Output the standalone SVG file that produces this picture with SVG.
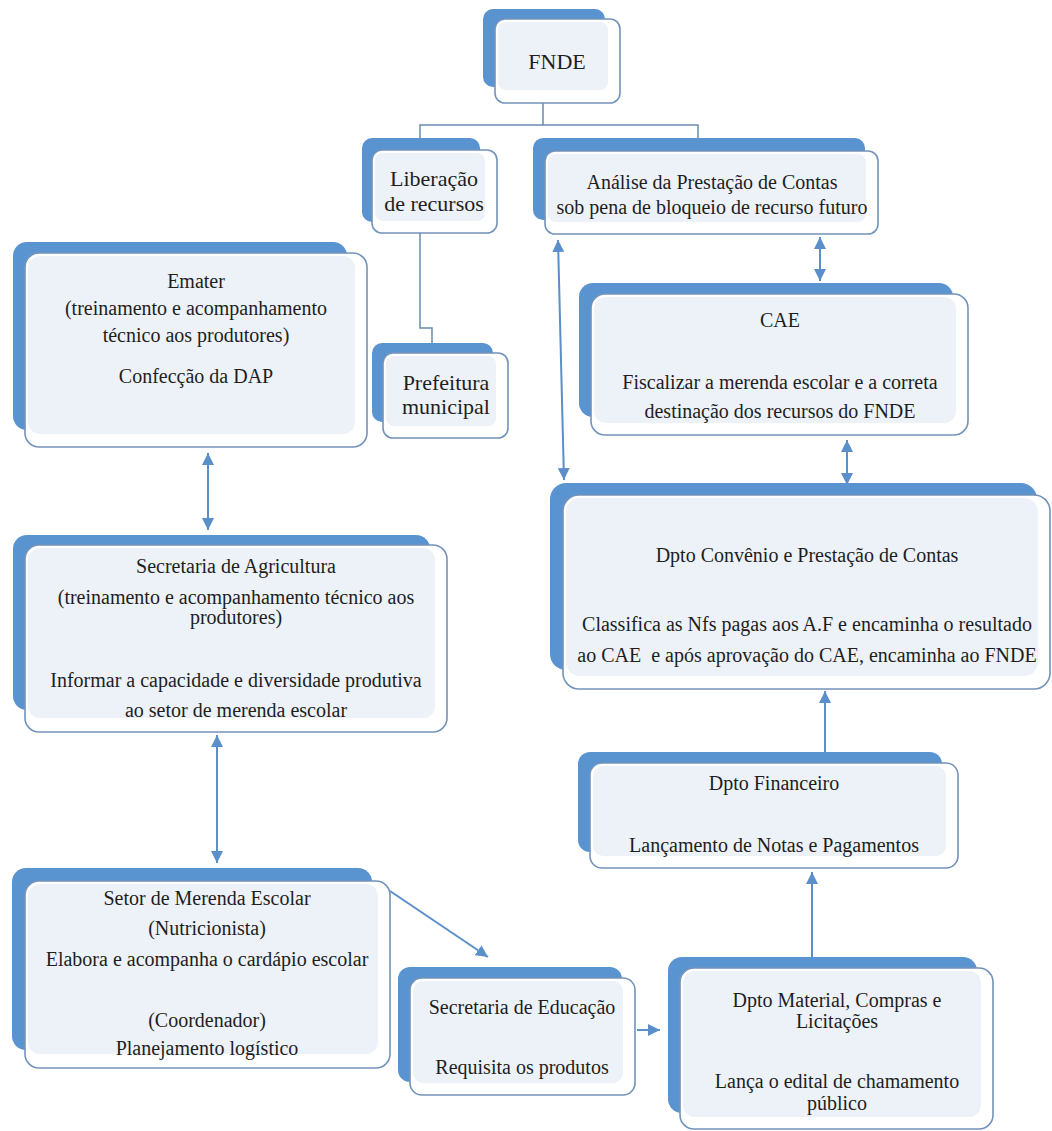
<svg xmlns="http://www.w3.org/2000/svg" width="1052" height="1131" viewBox="0 0 1052 1131">
<style>
.back{fill:#5a94d0;}
.front{fill:#ffffff;stroke:#7393bb;stroke-width:1.6;}
.inner{fill:#edf2f9;}
text{font-family:'Liberation Serif','DejaVu Serif',serif;font-size:20px;fill:#1e1e1e;text-anchor:middle;}
.t22{font-size:22px;}
.tree{fill:none;stroke:#6a8ab0;stroke-width:1.5;}
.arr{fill:none;stroke:#5b8fca;stroke-width:2;}
</style>
<defs>
<marker id="ah" viewBox="0 0 10 10" refX="10" refY="5" markerWidth="12" markerHeight="12" markerUnits="userSpaceOnUse" orient="auto-start-reverse">
<path d="M0,0 L10,5 L0,10 z" fill="#5b8fca"/>
</marker>
</defs>
<rect width="1052" height="1131" fill="#ffffff"/>

<g id="connectors">
<polyline class="tree" points="543,103 543,125"/>
<polyline class="tree" points="420,138 420,125 698,125 698,138"/>
<polyline class="tree" points="420,233 420,328 432,328 432,343"/>
<line class="arr" x1="208" y1="453" x2="208" y2="530" marker-start="url(#ah)" marker-end="url(#ah)"/>
<line class="arr" x1="217" y1="735" x2="217" y2="863" marker-start="url(#ah)" marker-end="url(#ah)"/>
<line class="arr" x1="390" y1="891" x2="488" y2="957" marker-end="url(#ah)"/>
<line class="arr" x1="637" y1="1030" x2="660" y2="1030" marker-end="url(#ah)"/>
<line class="arr" x1="812" y1="957" x2="812" y2="872" marker-end="url(#ah)"/>
<line class="arr" x1="825" y1="752" x2="825" y2="691" marker-end="url(#ah)"/>
<line class="arr" x1="847" y1="440" x2="847" y2="485" marker-start="url(#ah)" marker-end="url(#ah)"/>
<line class="arr" x1="820" y1="237" x2="820" y2="281" marker-start="url(#ah)" marker-end="url(#ah)"/>
<line class="arr" x1="558" y1="240" x2="564" y2="480" marker-start="url(#ah)" marker-end="url(#ah)"/>
</g>

<g id="fnde">
<rect class="back" x="483" y="9" width="122" height="78" rx="10"/>
<rect class="front" x="495" y="19" width="125" height="84" rx="10"/>
<rect class="inner" x="498" y="22" width="110" height="68" rx="8"/>
<text class="t22" x="557" y="69" font-family="Liberation Serif, serif">FNDE</text>
</g>

<g id="liberacao" font-family="Liberation Serif, serif">
<rect class="back" x="362" y="138" width="118" height="84" rx="10"/>
<rect class="front" x="372" y="150" width="125" height="83" rx="10"/>
<rect class="inner" x="375" y="153" width="110" height="68" rx="8"/>
<text class="t22" x="434" y="186">Liberação</text>
<text class="t22" x="434" y="211">de recursos</text>
</g>

<g id="analise">
<rect class="back" x="533" y="138" width="332" height="82" rx="10"/>
<rect class="front" x="545" y="151" width="333" height="83" rx="10"/>
<rect class="inner" x="548" y="154" width="318" height="68" rx="8"/>
<text x="712" y="189">Análise da Prestação de Contas</text>
<text x="712" y="214">sob pena de bloqueio de recurso futuro</text>
</g>

<g id="prefeitura">
<rect class="back" x="372" y="343" width="121" height="79" rx="10"/>
<rect class="front" x="383" y="353" width="125" height="85" rx="10"/>
<rect class="inner" x="386" y="356" width="110" height="70" rx="8"/>
<text class="t22" x="446" y="390">Prefeitura</text>
<text class="t22" x="446" y="414">municipal</text>
</g>

<g id="emater">
<rect class="back" x="13" y="242" width="334" height="188" rx="14"/>
<rect class="front" x="25" y="253" width="342" height="194" rx="14"/>
<rect class="inner" x="28" y="256" width="327" height="178" rx="12"/>
<text x="196" y="288">Emater</text>
<text x="196" y="315">(treinamento e acompanhamento</text>
<text x="196" y="342">técnico aos produtores)</text>
<text x="196" y="383">Confecção da DAP</text>
</g>

<g id="cae">
<rect class="back" x="579" y="283" width="374" height="134" rx="14"/>
<rect class="front" x="591" y="294" width="377" height="141" rx="14"/>
<rect class="inner" x="594" y="297" width="362" height="126" rx="12"/>
<text x="780" y="327">CAE</text>
<text x="780" y="389">Fiscalizar a merenda escolar e a correta</text>
<text x="780" y="418">destinação dos recursos do FNDE</text>
</g>

<g id="convenio">
<rect class="back" x="550" y="483" width="487" height="187" rx="16"/>
<rect class="front" x="563" y="495" width="487" height="194" rx="16"/>
<rect class="inner" x="566" y="498" width="472" height="178" rx="14"/>
<text x="807" y="562">Dpto Convênio e Prestação de Contas</text>
<text x="807" y="631">Classifica as Nfs pagas aos A.F e encaminha o resultado</text>
<text x="807" y="662" xml:space="preserve">ao CAE  e após aprovação do CAE, encaminha ao FNDE</text>
</g>

<g id="sec-agricultura">
<rect class="back" x="13" y="535" width="417" height="175" rx="14"/>
<rect class="front" x="25" y="545" width="422" height="187" rx="14"/>
<rect class="inner" x="28" y="548" width="407" height="170" rx="12"/>
<text x="236" y="573">Secretaria de Agricultura</text>
<text x="236" y="604">(treinamento e acompanhamento técnico aos</text>
<text x="236" y="624">produtores)</text>
<text x="236" y="687">Informar a capacidade e diversidade produtiva</text>
<text x="236" y="717">ao setor de merenda escolar</text>
</g>

<g id="financeiro">
<rect class="back" x="578" y="752" width="364" height="100" rx="12"/>
<rect class="front" x="590" y="763" width="368" height="105" rx="12"/>
<rect class="inner" x="593" y="766" width="353" height="90" rx="10"/>
<text x="774" y="790">Dpto Financeiro</text>
<text x="774" y="852">Lançamento de Notas e Pagamentos</text>
</g>

<g id="merenda">
<rect class="back" x="12" y="868" width="360" height="182" rx="14"/>
<rect class="front" x="25" y="881" width="365" height="187" rx="14"/>
<rect class="inner" x="28" y="884" width="350" height="170" rx="12"/>
<text x="207" y="905">Setor de Merenda Escolar</text>
<text x="207" y="935">(Nutricionista)</text>
<text x="207" y="966">Elabora e acompanha o cardápio escolar</text>
<text x="207" y="1027">(Coordenador)</text>
<text x="207" y="1055">Planejamento logístico</text>
</g>

<g id="sec-educacao">
<rect class="back" x="398" y="967" width="224" height="115" rx="12"/>
<rect class="front" x="410" y="978" width="225" height="117" rx="12"/>
<rect class="inner" x="413" y="981" width="210" height="102" rx="10"/>
<text x="522" y="1014">Secretaria de Educação</text>
<text x="522" y="1074">Requisita os produtos</text>
</g>

<g id="material">
<rect class="back" x="668" y="957" width="309" height="156" rx="14"/>
<rect class="front" x="680" y="968" width="313" height="161" rx="14"/>
<rect class="inner" x="683" y="971" width="298" height="146" rx="12"/>
<text x="837" y="1007">Dpto Material, Compras e</text>
<text x="837" y="1028">Licitações</text>
<text x="837" y="1088">Lança o edital de chamamento</text>
<text x="837" y="1110">público</text>
</g>
</svg>
